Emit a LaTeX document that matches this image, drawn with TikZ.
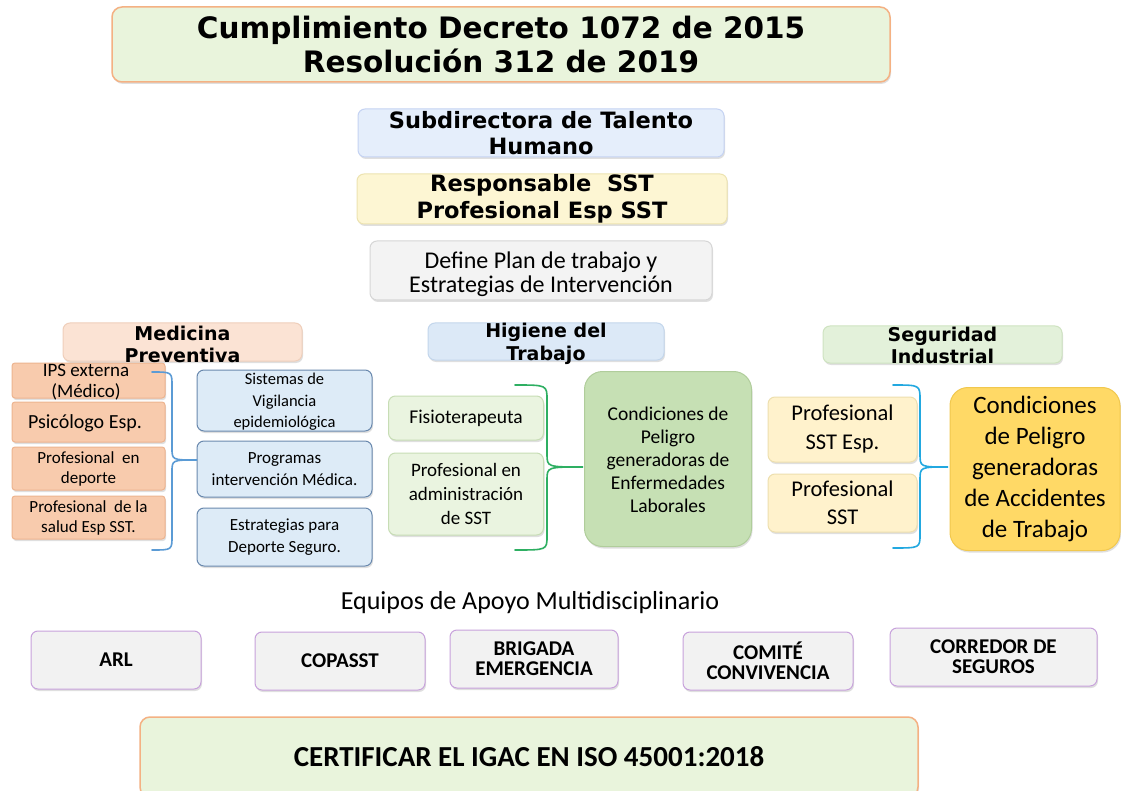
\documentclass[tikz,border=0pt]{standalone}
\usepackage{fontspec}
\setmainfont{Carlito}
\newfontfamily\verd{DejaVu Sans}
\usetikzlibrary{shadows}
\definecolor{titlefill}{HTML}{E9F4DC}
\definecolor{titledraw}{HTML}{F4B183}
\definecolor{subfill}{HTML}{E5EEFB}
\definecolor{subdraw}{HTML}{C5D3F3}
\definecolor{respfill}{HTML}{FDF6D3}
\definecolor{respdraw}{HTML}{EDE3B0}
\definecolor{deffill}{HTML}{F3F3F3}
\definecolor{defdraw}{HTML}{D6D6D6}
\definecolor{medfill}{HTML}{FBE3D4}
\definecolor{meddraw}{HTML}{EFCFBB}
\definecolor{higfill}{HTML}{DCE9F7}
\definecolor{higdraw}{HTML}{C3D6EC}
\definecolor{segfill}{HTML}{E3F1DA}
\definecolor{segdraw}{HTML}{CFE3C1}
\definecolor{orfill}{HTML}{F8CBAD}
\definecolor{ordraw}{HTML}{EDB48F}
\definecolor{blfill}{HTML}{DDEBF7}
\definecolor{bldraw}{HTML}{6A89AE}
\definecolor{grfill}{HTML}{EAF4E0}
\definecolor{grdraw}{HTML}{C7DDB5}
\definecolor{c1fill}{HTML}{C6E0B4}
\definecolor{c1draw}{HTML}{B0CD9B}
\definecolor{yefill}{HTML}{FFF2CC}
\definecolor{yedraw}{HTML}{EDDFAE}
\definecolor{c2fill}{HTML}{FFD966}
\definecolor{c2draw}{HTML}{F1C84E}
\definecolor{eqfill}{HTML}{F2F2F2}
\definecolor{eqdraw}{HTML}{C8A2DC}
\definecolor{brblue}{HTML}{5B9BD5}
\definecolor{brgreen}{HTML}{2EAF62}
\definecolor{brcyan}{HTML}{22A8E0}
\begin{document}
\begin{tikzpicture}[x=1pt,y=-1pt,
  box/.style={draw, line width=1pt, rounded corners=7pt, align=center, inner sep=0pt,
    drop shadow={opacity=0.25, shadow xshift=1pt, shadow yshift=-2pt}},
  brace/.style={line width=1.6pt, line cap=round}]
\useasboundingbox (0,0) rectangle (1121,791);
\fill[white] (0,0) rectangle (1121,791);

% title
\node[box, fill=titlefill, draw=titledraw, line width=1.5pt, rounded corners=10pt,
  minimum width=778pt, minimum height=75pt, font=\verd\bfseries\fontsize{29.5}{34}\selectfont]
  (title) at (501,44.5) {Cumplimiento Decreto 1072 de 2015\\Resolución 312 de 2019};

\node[box, fill=subfill, draw=subdraw, minimum width=366pt, minimum height=48pt,
  font=\verd\bfseries\fontsize{22.5}{26}\selectfont] (sub) at (541,133) {Subdirectora de Talento\\Humano};
\node[box, fill=respfill, draw=respdraw, minimum width=370pt, minimum height=50pt,
  font=\verd\bfseries\fontsize{22.5}{27}\selectfont] (resp) at (542,199) {Responsable\ \ SST\\Profesional Esp SST};
\node[box, fill=deffill, draw=defdraw, minimum width=342pt, minimum height=59pt] (def) at (541,270.5) {};
\node[font=\fontsize{24}{23.5}\selectfont, align=center] (deft) at (541,274) {Define Plan de trabajo y\\Estrategias de Intervención};

% headers
\node[box, fill=medfill, draw=meddraw, minimum width=239pt, minimum height=38pt] (med) at (182.5,342) {};
\node[font=\verd\bfseries\fontsize{19}{22}\selectfont, align=center] (medt) at (182.5,344) {Medicina\\Preventiva};
\node[box, fill=higfill, draw=higdraw, minimum width=236pt, minimum height=37pt] (hig) at (546,341.5) {};
\node[font=\verd\bfseries\fontsize{19}{23}\selectfont, align=center] (higt) at (546,343.5) {Higiene del\\Trabajo};
\node[box, fill=segfill, draw=segdraw, minimum width=239pt, minimum height=37pt] (seg) at (942.5,344.5) {};
\node[font=\verd\bfseries\fontsize{19}{22}\selectfont, align=center] (segt) at (942.5,345) {Seguridad\\Industrial};

% orange boxes
\node[box, fill=orfill, draw=ordraw, rounded corners=3pt, minimum width=153pt, minimum height=35pt] (o1) at (88.5,380.5) {};
\node[font=\fontsize{19}{21}\selectfont, align=center] (o1t) at (86,382.5) {IPS externa\\(Médico)};
\node[box, fill=orfill, draw=ordraw, rounded corners=3pt, minimum width=153pt, minimum height=40pt] (o2) at (88.5,422) {};
\node[font=\fontsize{20}{22}\selectfont] (o2t) at (85,423) {Psicólogo Esp.};
\node[box, fill=orfill, draw=ordraw, rounded corners=3pt, minimum width=153pt, minimum height=43pt,
  font=\fontsize{17}{20}\selectfont] (o3) at (88.5,468.5) {Profesional\ \ en\\deporte};
\node[box, fill=orfill, draw=ordraw, rounded corners=3pt, minimum width=153pt, minimum height=43pt,
  font=\fontsize{17}{20}\selectfont] (o4) at (88.5,517.5) {Profesional\ \ de la\\salud Esp SST.};

% blue boxes
\node[box, fill=blfill, draw=bldraw, minimum width=175pt, minimum height=61pt] (b1) at (284.5,400.5) {};
\node[font=\fontsize{16.5}{21.5}\selectfont, align=center] (b1t) at (284.5,402)
  {Sistemas de\\Vigilancia\\epidemiológica};
\node[box, fill=blfill, draw=bldraw, minimum width=175pt, minimum height=56pt,
  font=\fontsize{17}{22}\selectfont] (b2) at (284.5,469) {Programas\\intervención Médica.};
\node[box, fill=blfill, draw=bldraw, minimum width=175pt, minimum height=58pt,
  font=\fontsize{17}{22}\selectfont] (b3) at (284.5,537) {Estrategias para\\Deporte Seguro.};

% left brace
\coordinate (l1) at (152,372);
\coordinate (l2) at (197,460);
\coordinate (l3) at (152,550);
\draw[brace, brblue] (l1) .. controls (172,372) .. (172,386) -- (172,448)
  .. controls (172,460) .. (l2) .. controls (172,460) .. (172,472) -- (172,536)
  .. controls (172,550) .. (l3);

% hygiene
\node[box, fill=grfill, draw=grdraw, minimum width=155pt, minimum height=44pt,
  font=\fontsize{19.5}{22}\selectfont] (fis) at (466,418) {Fisioterapeuta};
\node[box, fill=grfill, draw=grdraw, minimum width=155pt, minimum height=82pt,
  font=\fontsize{19}{24}\selectfont] (padm) at (466,494) {Profesional en\\administración\\de SST};
\coordinate (g1) at (515,385);
\coordinate (g2) at (583,467);
\coordinate (g3) at (515,550);
\draw[brace, brgreen] (g1) .. controls (547,385) .. (547,400) -- (547,454)
  .. controls (547,467) .. (g2) .. controls (547,467) .. (547,480) -- (547,536)
  .. controls (547,550) .. (g3);
\node[box, fill=c1fill, draw=c1draw, rounded corners=18pt, minimum width=167pt, minimum height=175pt] (c1) at (668,459) {};
\node[font=\fontsize{19.5}{23}\selectfont, align=center] (c1t) at (668,460)
  {Condiciones de\\Peligro\\generadoras de\\Enfermedades\\Laborales};

% seguridad
\node[box, fill=yefill, draw=yedraw, minimum width=149pt, minimum height=65pt,
  font=\fontsize{22.5}{29}\selectfont] (pse) at (842.5,429.5) {Profesional\\SST Esp.};
\node[box, fill=yefill, draw=yedraw, minimum width=149pt, minimum height=58pt,
  font=\fontsize{22.5}{28}\selectfont] (ps) at (842.5,503) {Profesional\\SST};
\coordinate (s1) at (893,385);
\coordinate (s2) at (948,467);
\coordinate (s3) at (893,548);
\draw[brace, brcyan] (s1) .. controls (920,385) .. (920,400) -- (920,454)
  .. controls (920,467) .. (s2) .. controls (920,467) .. (920,480) -- (920,534)
  .. controls (920,548) .. (s3);
\node[box, fill=c2fill, draw=c2draw, rounded corners=18pt, minimum width=170pt, minimum height=163pt,
  font=\fontsize{25}{31}\selectfont] (c2) at (1035,469) {Condiciones\\de Peligro\\generadoras\\de Accidentes\\de Trabajo};

% equipos
\node[font=\fontsize{26}{28}\selectfont] (eq) at (530,603) {Equipos de Apoyo Multidisciplinario};
\tikzset{eqbox/.style={box, fill=eqfill, draw=eqdraw, minimum height=58pt,
  font=\bfseries\fontsize{21}{20}\selectfont}}
\node[eqbox, minimum width=170pt] (arl) at (116,660) {ARL};
\node[eqbox, minimum width=170pt] (cop) at (340,661) {COPASST};
\node[eqbox, minimum width=168pt] (bri) at (534,659) {BRIGADA\\EMERGENCIA};
\node[eqbox, minimum width=170pt] (com) at (768,661) {COMITÉ\\CONVIVENCIA};
\node[eqbox, minimum width=207pt] (cor) at (993.5,657) {CORREDOR DE\\SEGUROS};

% certificar
\node[box, fill=titlefill, draw=titledraw, line width=1.5pt, rounded corners=10pt,
  minimum width=778pt, minimum height=80pt, font=\bfseries\fontsize{29}{30}\selectfont]
  (cert) at (529,757) {CERTIFICAR EL IGAC EN ISO 45001:2018};
\end{tikzpicture}
\end{document}
